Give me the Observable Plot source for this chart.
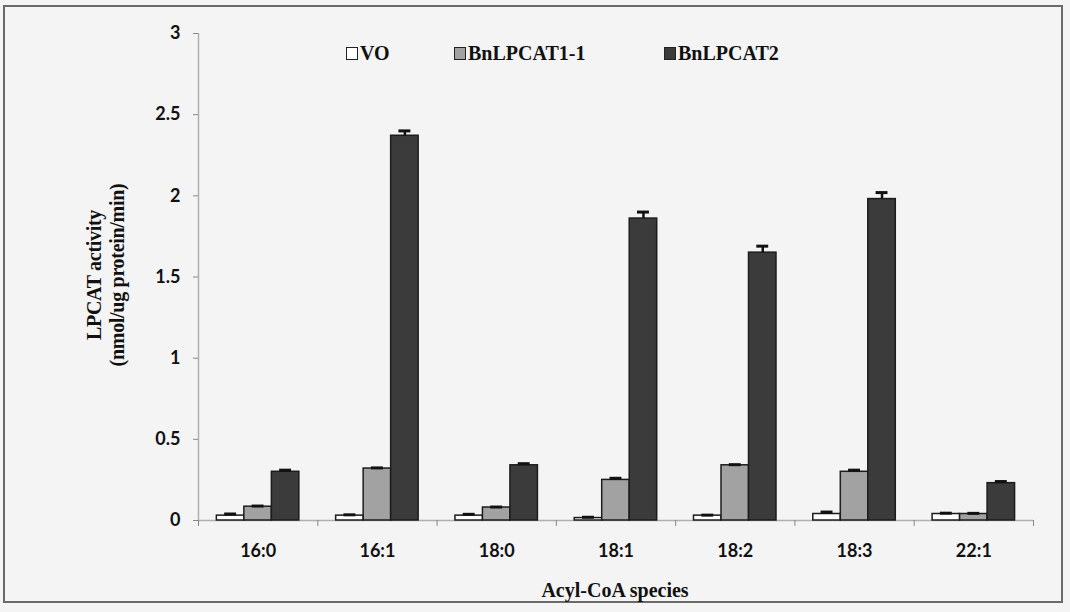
<!DOCTYPE html>
<html>
<head>
<meta charset="utf-8">
<script src="https://cdn.jsdelivr.net/npm/d3@7"></script>
<script src="https://cdn.jsdelivr.net/npm/@observablehq/plot@0.6"></script>
<style>
  html, body { margin: 0; padding: 0; background: #f4f4f4; }
  #wrap { position: relative; width: 1070px; height: 612px; background: #f4f4f4; overflow: hidden; }
  #frame { position: absolute; left: 3px; top: 5px; width: 1060px; height: 598px; border: 2px solid #6a6a6a; box-sizing: border-box; }
  #chart { position: absolute; left: 0; top: 0; }
  .serif { font-family: "Liberation Serif", "DejaVu Serif", serif; font-weight: bold; color: #111; }
  #legend { position: absolute; top: 42px; left: 346px; font-size: 20px; white-space: nowrap; }
  #legend span.item { position: absolute; top: 0; display: flex; align-items: center; }
  #legend span.sw { display: inline-block; width: 10px; height: 11px; border: 1.5px solid #222; margin-right: 2px; }
  #ytitle { position: absolute; left: 106px; top: 275px; transform: translate(-50%, -50%) rotate(-90deg); font-size: 20px; text-align: center; line-height: 23px; white-space: nowrap; letter-spacing: -0.3px; }
  #xtitle { position: absolute; left: 615px; top: 590px; transform: translate(-50%, -50%); font-size: 20px; white-space: nowrap; }
</style>
</head>
<body>
<div id="wrap">
  <div id="frame"></div>
  <div id="chart"></div>
  <div id="legend" class="serif"></div>
  <div id="ytitle" class="serif">LPCAT activity<br>(nmol/ug protein/min)</div>
  <div id="xtitle" class="serif">Acyl-CoA species</div>
</div>
<script>
const categories = ["16:0", "16:1", "18:0", "18:1", "18:2", "18:3", "22:1"];
const seriesNames = ["VO", "BnLPCAT1-1", "BnLPCAT2"];
const voValues   = [0.03, 0.03, 0.03, 0.015, 0.03, 0.04, 0.04];
const voErr      = [0.01, 0.005, 0.008, 0.005, 0.003, 0.012, 0.005];
const bn11Values = [0.085, 0.32, 0.08, 0.25, 0.34, 0.30, 0.04];
const bn11Err    = [0.004, 0.004, 0.003, 0.01, 0.004, 0.01, 0.004];
const bn2Values  = [0.30, 2.37, 0.34, 1.86, 1.65, 1.98, 0.23];
const bn2Err     = [0.01, 0.03, 0.01, 0.04, 0.04, 0.04, 0.01];
const seriesFills = ["#ffffff", "#a2a2a2", "#3b3b3b"];
const yTicks = [0, 0.5, 1, 1.5, 2, 2.5, 3];

const valueSets = [voValues, bn11Values, bn2Values];
const errSets = [voErr, bn11Err, bn2Err];
const groupPad = 0.154;   // fraction of a category slot before first bar
const barW = 0.2305;      // fraction of a category slot per bar
const capHalf = 0.05;

const rows = [];
categories.forEach((c, i) => {
  seriesNames.forEach((s, k) => {
    const x1 = i + groupPad + k * barW;
    rows.push({
      cat: c, series: s, value: valueSets[k][i], err: errSets[k][i],
      x1, x2: x1 + barW, xc: x1 + barW / 2, fill: seriesFills[k]
    });
  });
});

const plot = Plot.plot({
  width: 1070,
  height: 612,
  marginLeft: 198,
  marginRight: 37,
  marginTop: 33,
  marginBottom: 92,
  style: { background: "transparent", color: "#111" },
  x: { type: "linear", domain: [0, categories.length], axis: null },
  y: { domain: [0, 3], axis: null },
  marks: [
    Plot.ruleX([0], { stroke: "#b0b0b0", strokeWidth: 1.5 }),
    Plot.ruleY([0], { stroke: "#b0b0b0", strokeWidth: 1.5 }),
    Plot.axisY({
      ticks: yTicks, tickSize: 5, tickPadding: 13, stroke: "#888", label: null,
      tickFormat: d => String(d), fontSize: 18, fontWeight: "bold",
      fontFamily: "Lato, 'Open Sans', sans-serif", fill: "#111"
    }),
    Plot.axisX({
      ticks: d3.range(categories.length + 1), tickSize: 6, tickFormat: () => "",
      stroke: "#888", label: null
    }),
    Plot.axisX({
      ticks: categories.map((c, i) => i + 0.5), tickSize: 0, tickPadding: 24, label: null,
      tickFormat: v => categories[Math.floor(v)], fontSize: 18, fontWeight: "bold",
      fontFamily: "Lato, 'Open Sans', sans-serif", fill: "#111"
    }),
    Plot.rectY(rows, {
      x1: "x1", x2: "x2", y: "value", fill: "fill",
      stroke: "#1c1c1c", strokeWidth: 1.5
    }),
    Plot.ruleX(rows, { x: "xc", y1: "value", y2: d => d.value + d.err, stroke: "#111", strokeWidth: 2.5 }),
    Plot.ruleY(rows, { y: d => d.value + d.err, x1: d => d.xc - capHalf, x2: d => d.xc + capHalf, stroke: "#111", strokeWidth: 3 })
  ]
});
document.getElementById("chart").appendChild(plot);

// legend
const legendLeft = [0, 108, 318];
const legend = document.getElementById("legend");
seriesNames.forEach((s, k) => {
  const item = document.createElement("span");
  item.className = "item";
  item.style.left = legendLeft[k] + "px";
  const sw = document.createElement("span");
  sw.className = "sw";
  sw.style.background = seriesFills[k];
  item.appendChild(sw);
  item.appendChild(document.createTextNode(s));
  legend.appendChild(item);
});
</script>
</body>
</html>
